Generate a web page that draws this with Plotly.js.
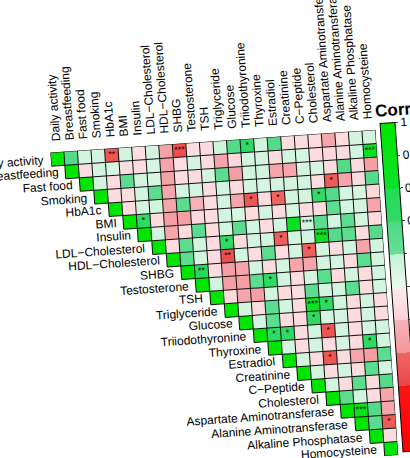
<!DOCTYPE html>
<html><head><meta charset="utf-8">
<script src="https://cdn.plot.ly/plotly-3.0.1.min.js"></script>
<style>
html,body{margin:0;padding:0;background:#fff;overflow:hidden;width:410px;height:458px;}
#wrap{position:absolute;left:0;top:0;width:470px;height:520px;transform:rotate(-4deg);transform-origin:205px 229px;}
#chart{width:470px;height:520px;}
</style></head><body>
<div id="wrap"><div id="chart"></div></div>
<script>
const variables = ["Daily activity","Breastfeeding","Fast food","Smoking","HbA1c","BMI","Insulin",
  "LDL\u2212Cholesterol","HDL\u2212Cholesterol","SHBG","Testosterone","TSH","Triglyceride","Glucose",
  "Triiodothyronine","Thyroxine","Estradiol","Creatinine","C\u2212Peptide","Cholesterol",
  "Aspartate Aminotransferase","Alanine Aminotransferase","Alkaline Phosphatase","Homocysteine"];

// correlations to the right of the diagonal, one array per row
const corDailyActivity = [0.35,0.12,0.12,-0.5,0.12,-0.1,0.12,-0.32,-0.55,-0.1,-0.12,0.15,0.35,0.42,0.12,0.35,-0.12,-0.12,-0.12,-0.3,-0.12,0.12,0.12];
const corBreastfeeding = [-0.12,0.12,0.1,-0.1,-0.12,0.1,-0.3,-0.1,0.12,-0.12,-0.3,-0.15,0.12,0.12,-0.12,0.12,0.1,-0.12,-0.15,-0.12,0.12,0.7];
const corFastFood = [0.12,-0.12,0.3,0.12,0.1,-0.32,-0.12,-0.12,0.12,0.3,-0.35,0.12,0.12,-0.3,-0.3,0.12,0.1,-0.12,0.35,-0.12,-0.35];
const corSmoking = [-0.12,-0.1,0.12,0.3,-0.3,0.12,0.12,-0.12,0.12,-0.12,0.12,0.1,0.12,0.12,0.12,-0.1,-0.48,-0.3,-0.12,0.35];
const corHbA1c = [-0.12,0.12,0.12,-0.3,0.3,-0.22,-0.12,0.12,-0.3,-0.5,-0.12,-0.42,0.12,0.12,0.4,0.35,0.12,0.1,-0.15];
const corBMI = [0.42,-0.12,-0.35,-0.35,-0.15,-0.12,0.12,0.1,-0.12,0.12,-0.12,0.1,-0.12,-0.12,0.3,0.12,0.12,-0.3];
const corInsulin = [0.12,-0.3,-0.12,0.3,-0.12,0.12,0.3,0.12,-0.12,0.12,0.7,0.12,0.3,0.12,0.3,0.12,-0.12];
const corLDL = [-0.12,0.3,0.12,-0.12,0.42,-0.12,0.12,0.12,-0.45,0.12,0.12,0.72,0.35,0.3,-0.12,0.35];
const corHDL = [0.3,0.12,-0.12,-0.55,0.12,-0.12,0.3,-0.12,0.12,-0.45,0.12,-0.12,0.12,-0.3,0.12];
const corSHBG = [0.55,-0.12,-0.35,-0.3,0.12,-0.12,0.12,-0.3,-0.3,0.12,0.12,-0.12,0.3,0.12];
const corTestosterone = [0.12,-0.35,-0.35,0.3,0.42,0.12,-0.12,0.12,0.3,-0.12,0.12,-0.12,0.12];
const corTSH = [-0.12,-0.3,-0.35,0.12,-0.12,-0.12,0.3,0.12,0.12,0.3,-0.12,0.12];
const corTriglyceride = [0.12,-0.12,0.3,0.12,-0.12,0.7,0.42,0.12,-0.12,0.12,-0.12];
const corGlucose = [0.12,0.3,-0.12,-0.12,0.42,0.12,0.12,-0.12,0.12,-0.12];
const corTriiodothyronine = [0.45,0.45,-0.12,0.12,-0.5,0.12,-0.12,0.12,0.12];
const corThyroxine = [0.12,-0.12,0.12,-0.12,0.12,-0.12,0.45,0.12];
const corEstradiol = [0.12,-0.12,-0.5,-0.12,-0.3,-0.35,0.3];
const corCreatinine = [0.12,-0.12,0.12,-0.12,0.3,0.12];
const corCPeptide = [0.12,-0.12,0.3,-0.12,0.35];
const corCholesterol = [0.3,0.12,-0.12,-0.3];
const corAST = [0.75,0.35,-0.3];
const corALT = [0.3,-0.48];
const corALP = [-0.12];

// significance marks: [row, column, stars] (1-based)
const sigRows = [1,1,1,2,4,5,5,5,6,7,8,8,8,9,9,10,11,13,13,14,15,15,15,16,17,21,22];
const sigCols = [5,10,15,24,21,15,17,20,7,19,13,17,20,13,19,11,16,19,20,19,16,17,20,23,20,22,24];
const sigStars = ["**","***","*","***","*","*","*","*","*","***","*","*","***","**","*","**","*","***","*","*","*","*","*","*","*","***","*"];

// stepped colour bands of 0.2 (colour at start and end of each band)
const bandEdges = [-1,-0.6,-0.4,-0.2,0,0.2,0.4,0.6,1];
const bandStart = ["rgb(255,0,0)","rgb(236,70,70)","rgb(244,150,155)","rgb(251,208,213)",
  "rgb(234,250,239)","rgb(105,223,152)","rgb(48,218,102)","rgb(12,225,42)"];
const bandEnd = ["rgb(250,22,22)","rgb(240,102,102)","rgb(247,180,185)","rgb(254,237,239)",
  "rgb(196,242,212)","rgb(78,216,132)","rgb(36,220,86)","rgb(0,230,0)"];

const upperRows = [corDailyActivity,corBreastfeeding,corFastFood,corSmoking,corHbA1c,corBMI,corInsulin,corLDL,
  corHDL,corSHBG,corTestosterone,corTSH,corTriglyceride,corGlucose,corTriiodothyronine,corThyroxine,
  corEstradiol,corCreatinine,corCPeptide,corCholesterol,corAST,corALT,corALP,[]];

const n = variables.length;
const idx = variables.map((_, i) => i);
const z = [];
for (let r = 0; r < n; r++) {
  const row = [];
  for (let c = 0; c < n; c++) {
    if (c < r) row.push(null);
    else if (c === r) row.push(1);
    else row.push(upperRows[r][c - r - 1]);
  }
  z.push(row);
}
const colorscale = [];
for (let i = 0; i < bandStart.length; i++) {
  colorscale.push([(bandEdges[i] + 1) / 2, bandStart[i]]);
  colorscale.push([(bandEdges[i + 1] + 1) / 2, bandEnd[i]]);
}

// cell borders of the upper triangle
const lx = [], ly = [];
for (let k = 0; k <= n; k++) {
  lx.push(Math.max(k - 1, 0) - 0.5, n - 0.5, null);
  ly.push(k - 0.5, k - 0.5, null);
  lx.push(k - 0.5, k - 0.5, null);
  ly.push(-0.5, Math.min(k, n - 1) + 0.5, null);
}

const font = "Liberation Sans, Arial, sans-serif";
const gridTop = 142, gridBottom = 468, gridLeft = 56, gridSize = 326;

const traces = [
  {type: "heatmap", x: idx, y: idx, z: z, zmin: -1, zmax: 1, colorscale: colorscale,
   hoverinfo: "skip",
   colorbar: {x: (387 - gridLeft) / gridSize, xanchor: "left", xpad: 0, ypad: 0,
     y: (gridBottom - 136) / gridSize, yanchor: "top", lenmode: "pixels", len: 329,
     thicknessmode: "pixels", thickness: 15, outlinewidth: 1, outlinecolor: "#000",
     tickvals: [-1,-0.8,-0.6,-0.4,-0.2,0,0.2,0.4,0.6,0.8,1], ticks: "outside", ticklen: 3,
     tickfont: {family: font, size: 12, color: "#000"}}},
  {type: "scatter", mode: "lines", x: lx, y: ly, line: {color: "#111", width: 1},
   hoverinfo: "skip", showlegend: false},
  {type: "scatter", mode: "text", x: sigCols.map(c => c - 1), y: sigRows.map(r => r - 1),
   text: sigStars, textposition: "middle center",
   textfont: {family: font, size: 9, color: "#000"}, hoverinfo: "skip", showlegend: false}
];

const annotations = variables.map((v, i) => ({
  x: i - 0.5, y: i, xref: "x", yref: "y", text: v, showarrow: false,
  xanchor: "right", yanchor: "middle", xshift: -5,
  font: {family: font, size: 12, color: "#000"}
}));
annotations.push({xref: "paper", yref: "paper", x: (381 - gridLeft) / gridSize,
  y: (gridBottom - 123.5) / gridSize, xanchor: "left", yanchor: "middle", showarrow: false,
  text: "<b>Correlation</b>", font: {family: font, size: 17, color: "#000"}});

const layout = {
  width: 470, height: 520,
  margin: {l: gridLeft, r: 470 - gridLeft - gridSize, t: gridTop, b: 520 - gridBottom},
  paper_bgcolor: "rgba(0,0,0,0)", plot_bgcolor: "rgba(0,0,0,0)",
  showlegend: false,
  xaxis: {range: [-0.5, n - 0.5], side: "top", tickvals: idx, ticktext: variables, tickangle: -90,
    ticks: "", ticklabelstandoff: 10, showgrid: false, zeroline: false, showline: false,
    tickfont: {family: font, size: 12, color: "#000"}, fixedrange: true},
  yaxis: {range: [n - 0.5, -0.5], showticklabels: false, showgrid: false, zeroline: false,
    showline: false, ticks: "", fixedrange: true},
  annotations: annotations
};

Plotly.newPlot("chart", traces, layout, {displayModeBar: false, staticPlot: true});
</script>
</body></html>
